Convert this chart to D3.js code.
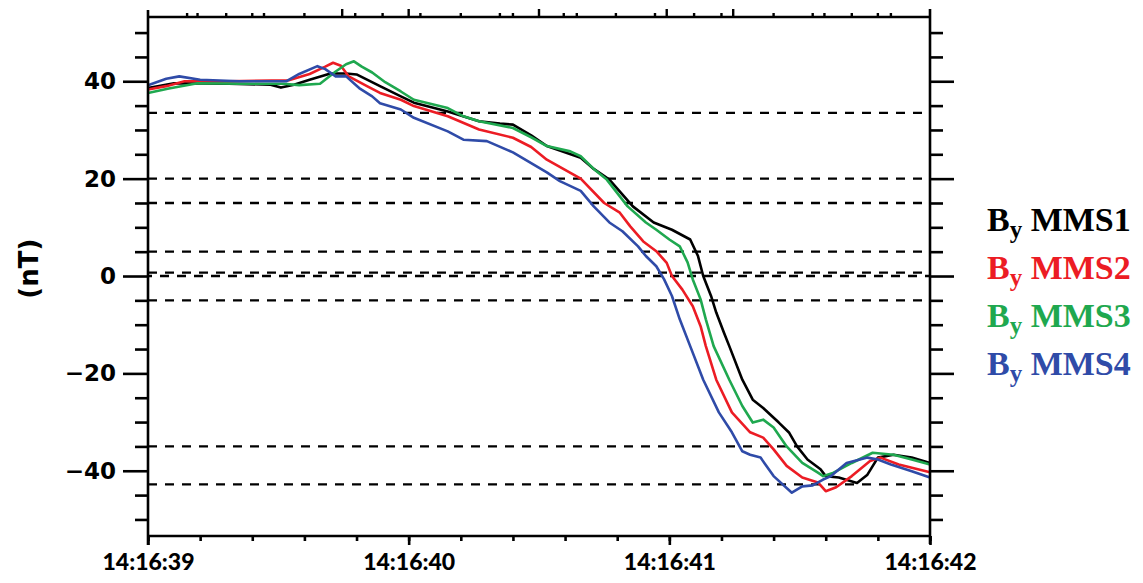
<!DOCTYPE html>
<html>
<head>
<meta charset="utf-8">
<script src="https://cdn.jsdelivr.net/npm/d3@7"></script>
<style>
  body { margin: 0; background: #fff; }
  svg { display: block; }
</style>
</head>
<body>
<script>
/*
 * Data: seconds after 14:16:39, By in nT
 */
const by1 = [[0.00,38.6],[0.10,39.6],[0.31,39.5],[0.47,39.3],[0.51,38.7],[0.56,39.3],[0.62,40.3],[0.70,41.6],[0.76,41.6],[0.80,41.4],[0.89,39.0],[0.97,36.9],[1.02,35.6],[1.15,33.8],[1.27,31.8],[1.35,31.3],[1.40,31.1],[1.47,28.9],[1.53,26.7],[1.66,24.3],[1.71,22.0],[1.77,19.8],[1.86,14.3],[1.94,11.0],[2.01,9.5],[2.08,7.5],[2.11,4.1],[2.13,0.0],[2.16,-4.1],[2.18,-7.5],[2.21,-11.7],[2.23,-14.4],[2.28,-21.3],[2.32,-25.4],[2.36,-27.1],[2.42,-30.1],[2.46,-32.2],[2.49,-35.0],[2.53,-37.7],[2.58,-39.7],[2.60,-41.1],[2.65,-41.4],[2.72,-42.5],[2.76,-40.8],[2.80,-37.3],[2.86,-36.7],[2.93,-37.3],[3.00,-38.4]];
const by2 = [[0.00,38.3],[0.07,39.0],[0.14,40.0],[0.31,40.0],[0.54,40.2],[0.62,41.5],[0.68,43.0],[0.71,43.8],[0.74,43.2],[0.77,41.0],[0.84,39.0],[0.89,37.6],[0.97,36.2],[1.02,34.9],[1.15,32.8],[1.27,30.1],[1.40,28.4],[1.47,26.5],[1.53,23.9],[1.66,20.0],[1.75,15.0],[1.81,13.0],[1.85,10.2],[1.90,7.1],[1.95,5.1],[1.99,2.7],[2.01,0.0],[2.05,-2.8],[2.09,-6.2],[2.12,-10.3],[2.14,-14.4],[2.18,-21.3],[2.24,-28.0],[2.31,-32.1],[2.36,-33.2],[2.40,-35.6],[2.45,-39.0],[2.51,-41.4],[2.57,-42.4],[2.60,-44.2],[2.64,-43.4],[2.70,-41.1],[2.77,-38.0],[2.81,-37.3],[2.88,-38.7],[3.00,-40.3]];
const by3 = [[0.00,37.6],[0.08,38.5],[0.19,39.6],[0.35,39.5],[0.52,39.5],[0.58,39.2],[0.66,39.5],[0.72,42.0],[0.76,43.5],[0.79,44.1],[0.82,43.0],[0.86,41.8],[0.91,39.8],[0.97,37.9],[1.02,36.2],[1.15,34.5],[1.21,32.8],[1.27,31.8],[1.40,30.4],[1.47,28.5],[1.53,26.7],[1.62,25.6],[1.66,24.6],[1.71,22.0],[1.76,19.8],[1.84,14.3],[1.91,11.0],[1.95,9.5],[2.00,7.5],[2.04,6.1],[2.07,2.8],[2.09,-0.7],[2.12,-4.8],[2.14,-8.9],[2.17,-14.4],[2.23,-21.3],[2.28,-26.7],[2.32,-30.1],[2.36,-29.5],[2.40,-31.1],[2.45,-35.0],[2.51,-38.4],[2.57,-40.4],[2.59,-41.1],[2.63,-40.4],[2.70,-38.4],[2.78,-36.3],[2.86,-36.7],[2.93,-37.7],[3.00,-38.7]];
const by4 = [[0.00,39.2],[0.07,40.5],[0.12,41.0],[0.20,40.3],[0.35,40.0],[0.53,40.0],[0.58,41.5],[0.65,43.1],[0.68,42.5],[0.72,41.0],[0.76,41.0],[0.81,38.6],[0.86,36.9],[0.89,35.5],[0.97,34.2],[1.02,32.5],[1.15,29.7],[1.21,28.0],[1.30,27.7],[1.40,25.4],[1.53,21.3],[1.58,19.5],[1.66,17.5],[1.71,14.3],[1.77,11.0],[1.82,9.2],[1.88,6.1],[1.91,4.1],[1.95,2.0],[1.98,-0.7],[2.01,-4.1],[2.04,-8.9],[2.08,-14.4],[2.13,-21.3],[2.19,-28.0],[2.24,-32.1],[2.28,-36.0],[2.31,-36.7],[2.35,-37.3],[2.40,-41.1],[2.47,-44.5],[2.51,-43.2],[2.55,-43.0],[2.59,-41.8],[2.62,-41.1],[2.68,-38.4],[2.76,-37.3],[2.80,-37.7],[2.85,-38.7],[2.93,-40.1],[3.00,-41.4]];

const seriesNames = ['MMS1', 'MMS2', 'MMS3', 'MMS4'];
const seriesColors = ['#000000', '#ec1c24', '#1fa84f', '#2f4ba8'];
const dashLevels = [33.5, 20, 15, 5, 0.7, 0, -5, -35, -42.8];
const yTickValues = [40, 20, 0, -20, -40];
// odd marks along the top edge (seconds), tall ones flagged
const topTicks = [0.15,0.19,0.30,0.40,0.445,0.60,0.745,0.795,0.90,1.0,1.045,1.20,1.35,1.40,1.50,1.595,1.645,1.795,1.945,1.99,2.095,2.20,2.245,2.40,2.55,2.595,2.70,2.80,2.85];
const topTall = [0.745, 1.0, 1.50, 1.99, 2.245];

/*
 * Layout
 */
const svgWidth = 1143, svgHeight = 583;
const plotLeft = 148, plotRight = 930, plotTop = 17, plotBottom = 536;

const t0 = Date.UTC(2015, 9, 16, 14, 16, 39);
const toDate = s => new Date(t0 + s * 1000);

const xScale = d3.scaleUtc()
  .domain([toDate(0), toDate(3)])
  .range([plotLeft, plotRight]);

const yScale = d3.scaleLinear()
  .domain([-53.4, 53.2])
  .range([plotBottom, plotTop]);

const svg = d3.select('body')
  .append('svg')
  .attr('width', svgWidth)
  .attr('height', svgHeight);

/*
 * Dashed reference lines
 */
svg.append('g')
  .selectAll('line')
  .data(dashLevels)
  .enter().append('line')
  .attr('x1', plotLeft)
  .attr('x2', plotRight)
  .attr('y1', d => yScale(d))
  .attr('y2', d => yScale(d))
  .attr('stroke', '#000')
  .attr('stroke-width', 2.4)
  .attr('stroke-dasharray', '9,8')
  .attr('stroke-dashoffset', d => d === 0 ? 5 : 0);

/*
 * Series
 */
const line = d3.line()
  .x(d => xScale(toDate(d[0])))
  .y(d => yScale(d[1]));

const allSeries = [by1, by2, by3, by4];
svg.append('g')
  .selectAll('path')
  .data(allSeries)
  .enter().append('path')
  .attr('d', line)
  .attr('fill', 'none')
  .attr('stroke', (d, i) => seriesColors[i])
  .attr('stroke-width', 2.6)
  .attr('stroke-linejoin', 'round');

/*
 * Axes
 */
const frame = svg.append('g')
  .attr('stroke', '#000')
  .attr('stroke-width', 2.6)
  .attr('fill', 'none');

frame.append('line').attr('x1', plotLeft).attr('x2', plotLeft).attr('y1', plotTop - 7).attr('y2', plotBottom + 9);
frame.append('line').attr('x1', plotRight).attr('x2', plotRight).attr('y1', plotTop - 8).attr('y2', plotBottom + 8);
frame.append('line').attr('x1', plotLeft).attr('x2', plotRight).attr('y1', plotTop).attr('y2', plotTop);
frame.append('line').attr('x1', plotLeft).attr('x2', plotRight).attr('y1', plotBottom).attr('y2', plotBottom);

const minorY = d3.range(-50, 51, 5).filter(v => yTickValues.indexOf(v) < 0);

// left axis
svg.append('g')
  .attr('transform', `translate(${plotLeft},0)`)
  .call(d3.axisLeft(yScale).tickValues(minorY).tickSize(13).tickFormat(''))
  .call(g => g.select('.domain').remove())
  .call(g => g.selectAll('line').attr('stroke-width', 2.6));

svg.append('g')
  .attr('transform', `translate(${plotLeft},0)`)
  .call(d3.axisLeft(yScale).tickValues(yTickValues).tickSize(25).tickPadding(7))
  .call(g => g.select('.domain').remove())
  .call(g => g.selectAll('line').attr('stroke-width', 2.6))
  .call(g => g.selectAll('text')
    .attr('font-family', 'DejaVu Sans, sans-serif')
    .attr('font-weight', 'bold')
    .attr('font-size', 23)
    .attr('fill', '#000'));

// right axis
svg.append('g')
  .attr('transform', `translate(${plotRight},0)`)
  .call(d3.axisRight(yScale).tickValues(minorY).tickSize(13).tickFormat(''))
  .call(g => g.select('.domain').remove())
  .call(g => g.selectAll('line').attr('stroke-width', 2.6));

svg.append('g')
  .attr('transform', `translate(${plotRight},0)`)
  .call(d3.axisRight(yScale).tickValues(yTickValues).tickSize(24).tickFormat(''))
  .call(g => g.select('.domain').remove())
  .call(g => g.selectAll('line').attr('stroke-width', 2.6));

// bottom axis
const minorX = d3.range(0, 3.01, 0.2).map(s => toDate(+s.toFixed(1)));
svg.append('g')
  .attr('transform', `translate(0,${plotBottom})`)
  .call(d3.axisBottom(xScale).tickValues(minorX).tickSize(5).tickFormat(''))
  .call(g => g.select('.domain').remove())
  .call(g => g.selectAll('line').attr('stroke-width', 2.6));

svg.append('g')
  .attr('transform', `translate(0,${plotBottom})`)
  .call(d3.axisBottom(xScale).tickValues([0, 1, 2, 3].map(toDate)).tickSize(9).tickPadding(9)
    .tickFormat(d3.utcFormat('%H:%M:%S')))
  .call(g => g.select('.domain').remove())
  .call(g => g.selectAll('line').attr('stroke-width', 2.6))
  .call(g => g.selectAll('text')
    .attr('font-family', 'Lato, sans-serif')
    .attr('font-weight', 900)
    .attr('font-size', 23)
    .attr('fill', '#000'));

// top marks
svg.append('g')
  .selectAll('line')
  .data(topTicks)
  .enter().append('line')
  .attr('x1', d => xScale(toDate(d)))
  .attr('x2', d => xScale(toDate(d)))
  .attr('y1', plotTop)
  .attr('y2', d => topTall.indexOf(d) >= 0 ? plotTop - 8 : plotTop - 4)
  .attr('stroke', '#000')
  .attr('stroke-width', 2.4);

// y label
svg.append('text')
  .attr('transform', `translate(38,${yScale(1.5)}) rotate(-90)`)
  .attr('text-anchor', 'middle')
  .attr('font-family', 'DejaVu Sans, sans-serif')
  .attr('font-weight', 'bold')
  .attr('font-size', 26)
  .text('(nT)');

/*
 * Legend
 */
const legend = svg.append('g')
  .selectAll('text')
  .data(seriesNames)
  .enter().append('text')
  .attr('x', 987)
  .attr('y', (d, i) => 231 + i * 48)
  .attr('font-family', 'Liberation Serif, serif')
  .attr('font-weight', 'bold')
  .attr('font-size', 34)
  .attr('fill', (d, i) => seriesColors[i]);

legend.append('tspan').text('B');
legend.append('tspan').attr('font-size', 25).attr('dy', 7).text('y');
legend.append('tspan').attr('dy', -7).text(d => '\u00a0' + d);
</script>
</body>
</html>
